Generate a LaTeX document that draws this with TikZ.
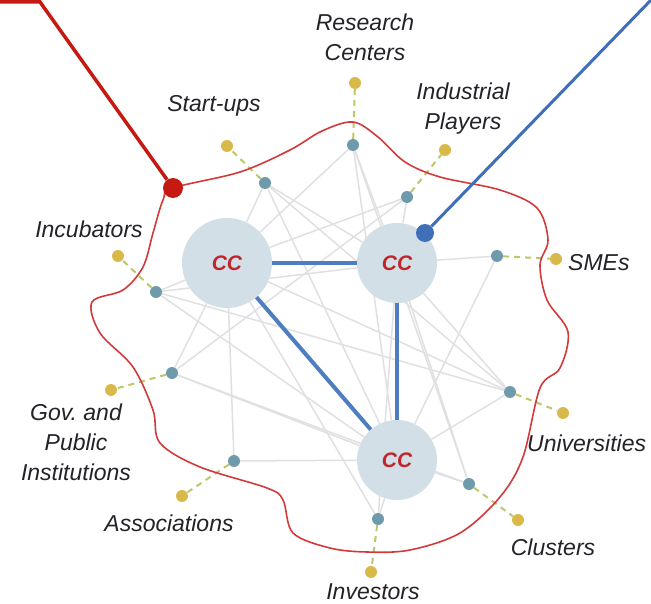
\documentclass[tikz,border=0pt]{standalone}
\usepackage{fontspec}
\setmainfont{Liberation Sans}
\usetikzlibrary{positioning, backgrounds}
\definecolor{hubfill}{HTML}{D3DFE7}
\definecolor{ccred}{HTML}{C0272D}
\definecolor{actorblue}{HTML}{6F9AAB}
\definecolor{pinyellow}{HTML}{D9B94A}
\definecolor{labelgray}{HTML}{222228}
\definecolor{meshgray}{HTML}{E0E0E3}
\definecolor{linkblue}{HTML}{4F7EC0}
\definecolor{leadblue}{HTML}{3E6FB8}
\definecolor{tiegreen}{HTML}{BBC86A}
\definecolor{blobred}{HTML}{D23A3A}
\definecolor{leadred}{HTML}{C41A12}

\begin{document}
\begin{tikzpicture}[x=1pt,y=-1pt,
  hub/.style={circle, fill=hubfill, inner sep=0pt, text=ccred,
    font=\fontsize{21}{21}\selectfont\bfseries\itshape},
  actor/.style={circle, fill=actorblue, minimum size=12pt, inner sep=0pt},
  pin/.style={circle, fill=pinyellow, minimum size=12pt, inner sep=0pt},
  lbl/.style={font=\fontsize{23}{30}\selectfont\itshape, text=labelgray,
    align=center, inner sep=0pt},
  mesh/.style={draw=meshgray, line width=1.5pt},
  strong/.style={draw=linkblue, line width=4pt},
  tie/.style={draw=tiegreen, line width=2pt, dash pattern=on 6pt off 5pt}]
\useasboundingbox (0,0) rectangle (651,604);

% hubs and actors
\node[hub, minimum size=90pt] (cc1) at (227,263) {CC};
\node[hub, minimum size=80pt] (cc2) at (397,263) {CC};
\node[hub, minimum size=80pt] (cc3) at (397,460) {CC};

\node[actor] (res) at (353,145) {};
\node[actor] (sta) at (265,183) {};
\node[actor] (ind) at (407,197) {};
\node[actor] (inc) at (156,292) {};
\node[actor] (sme) at (497,256) {};
\node[actor] (gov) at (172,373) {};
\node[actor] (uni) at (510,392) {};
\node[actor] (ass) at (234,461) {};
\node[actor] (clu) at (469,484) {};
\node[actor] (inv) at (378,519) {};

\node[pin] (resp) at (355,83) {};
\node[pin] (stap) at (227,146) {};
\node[pin] (indp) at (445,150) {};
\node[pin] (incp) at (118,256) {};
\node[pin] (smep) at (556,259) {};
\node[pin] (govp) at (111,390) {};
\node[pin] (unip) at (563,413) {};
\node[pin] (assp) at (182,496) {};
\node[pin] (clup) at (518,520) {};
\node[pin] (invp) at (371,572) {};

% labels
\node[lbl] (reslbl) at (365,37) {Research\\Centers};
\node[lbl] (stalbl) at (214,106) {Start-ups};
\node[lbl] (indlbl) at (463,109) {Industrial\\Players};
\node[lbl] (inclbl) at (89,229) {Incubators};
\node[lbl, anchor=west] (smelbl) at (568,263) {SMEs};
\node[lbl] (govlbl) at (76,442) {Gov.\ and\\Public\\Institutions};
\node[lbl, anchor=west] (unilbl) at (527,443) {Universities};
\node[lbl] (asslbl) at (169,523) {Associations};
\node[lbl] (clulbl) at (553,547) {Clusters};
\node[lbl] (invlbl) at (373,592) {Investors};

% light mesh behind everything
\begin{scope}[on background layer]
\foreach \a/\b in {res/cc1,res/cc2,res/cc3,res/clu,sta/cc1,sta/cc2,sta/cc3,sta/uni,
  ind/cc1,ind/cc2,ind/gov,inc/cc1,inc/cc2,inc/uni,inc/cc3,sme/cc2,sme/cc3,
  gov/cc1,gov/cc3,gov/clu,uni/cc2,uni/cc3,uni/cc1,ass/cc1,ass/cc3,
  clu/cc3,clu/cc2,inv/cc3,inv/cc1,inv/cc2}
  \draw[mesh] (\a) -- (\b);
\foreach \n in {res,sta,ind,inc,sme,gov,uni,ass,clu,inv}
  \draw[tie] (\n) -- (\n p);
\end{scope}

\draw[strong] (cc1) -- (cc2);
\draw[strong] (cc1) -- (cc3);
\draw[strong] (cc2) -- (cc3);

% ecosystem boundary
\draw[blobred, line width=1.6pt] plot[smooth cycle, tension=0.55] coordinates {
  (173,188) (240,172) (290,150) (322,131) (353,122) (378,137) (405,162)
  (440,177) (500,190) (537,208) (548,240) (540,265) (547,300) (568,332)
  (560,368) (540,388) (523,457) (500,497) (460,533) (410,550) (367,552)
  (330,548) (293,533) (283,500) (267,488) (200,467) (160,443) (153,410)
  (133,367) (100,333) (92,302) (123,290) (143,267) (153,233) (163,200)};

% lead lines
\coordinate (redtop) at (0,2);
\coordinate (redbend) at (40,2);
\node[circle, fill=leadred, minimum size=20pt, inner sep=0pt] (reddot) at (173,188) {};
\draw[leadred, line width=3.5pt] (redtop) -- (redbend) -- (reddot);

\coordinate (bluetop) at (651,0);
\node[circle, fill=leadblue, minimum size=18pt, inner sep=0pt] (bluedot) at (425,233) {};
\draw[leadblue, line width=3pt] (bluetop) -- (bluedot);
\end{tikzpicture}
\end{document}
